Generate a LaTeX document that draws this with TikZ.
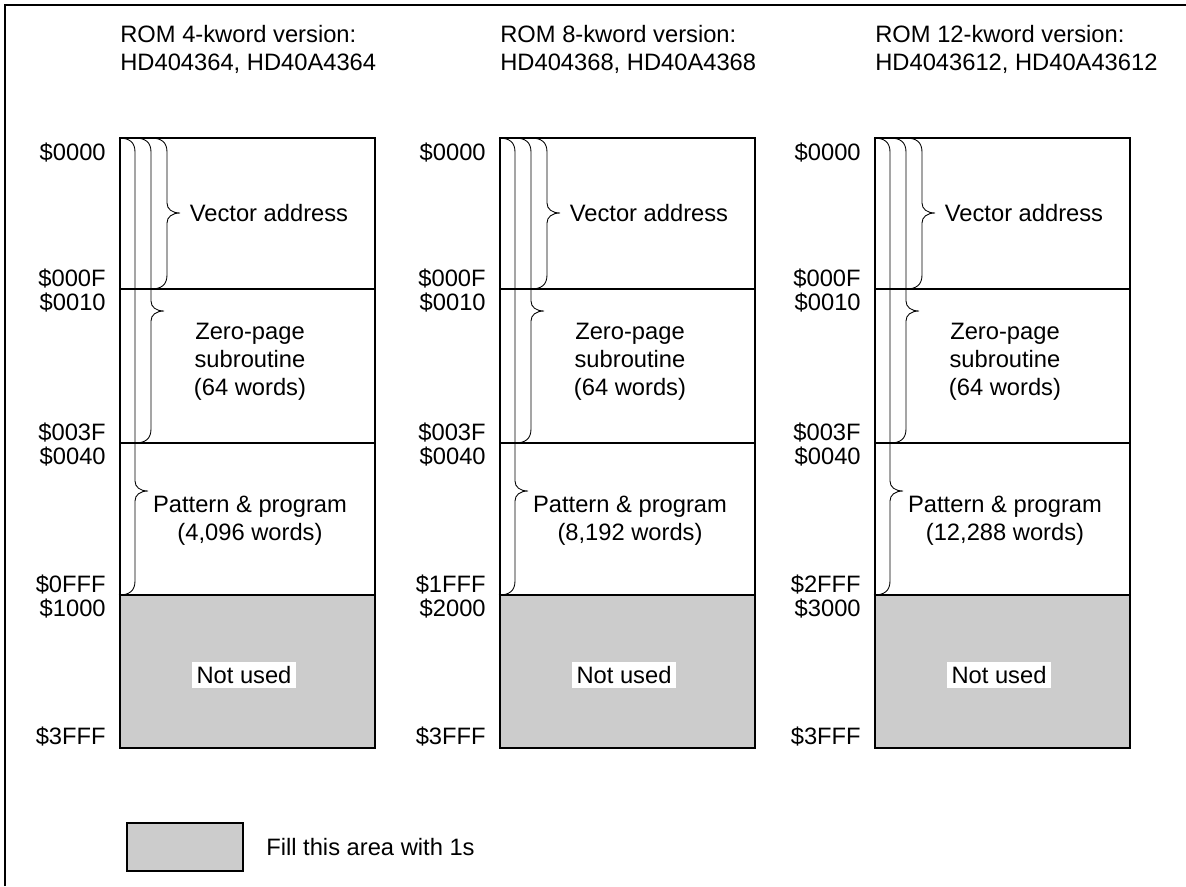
\documentclass[tikz,border=0pt]{standalone}
\usepackage{fontspec}
\setmainfont{Liberation Sans}
\definecolor{unused}{HTML}{CCCCCC}
% brace: x of the stem, top, bottom, tip
\newcommand\membrace[4]{\draw[brace] (#1-16,#2) .. controls (#1-6,#2) and (#1,#2+4) .. (#1,#2+14) -- (#1,#4-10) .. controls (#1,#4-4) and (#1+5,#4) .. (#1+13,#4) .. controls (#1+5,#4) and (#1,#4+4) .. (#1,#4+10) -- (#1,#3-14) .. controls (#1,#3-4) and (#1-6,#3) .. (#1-16,#3);}
\begin{document}
\begin{tikzpicture}[x=0.02cm,y=-0.02cm,every node/.style={font=\fontsize{13.5}{16}\selectfont},line/.style={line width=0.6pt},brace/.style={line width=0.5pt},txt/.style={align=center,inner sep=0pt},addr/.style={anchor=east,inner sep=0pt}]
\useasboundingbox (0,0) rectangle (1186,886);
\draw[line width=0.8pt] (5,886) -- (5,5) -- (1186,5);
\foreach \L/\kw/\hda/\hdb/\lst/\nxt/\wds [count=\i] in {120/4/HD404364/HD40A4364/0FFF/1000/{4,096},500/8/HD404368/HD40A4368/1FFF/2000/{8,192},875/12/HD4043612/HD40A43612/2FFF/3000/{12,288}}{
\node[align=left,anchor=west,inner sep=0pt] (hd\i) at (\L,49) {ROM \kw-kword version:\\\hda, \hdb};
\fill[unused] (\L,595) rectangle (\L+255,748);
\draw[line] (\L,138) rectangle (\L+255,748) (\L,289) -- (\L+255,289) (\L,443) -- (\L+255,443) (\L,595) -- (\L+255,595);
\membrace{\L+47}{138}{289}{213}
\membrace{\L+31}{138}{443}{311}
\membrace{\L+15}{138}{595}{491}
\node[txt] (va\i) at (\L+149,213) {Vector address};
\node[txt] (zp\i) at (\L+130,362) {Zero-page\\subroutine\\(64 words)};
\node[txt] (pp\i) at (\L+130,521) {Pattern \& program\\(\wds\ words)};
\node[fill=white,inner sep=2.5pt] (nu\i) at (\L+124,675) {Not used};
\foreach \ad/\y [count=\j] in {0000/153,000F/279,0010/303,003F/433,0040/457,\lst/585,\nxt/609,3FFF/737}
  \node[addr] (ad\i-\j) at (\L-14,\y) {\$\ad};
}
\draw[line,fill=unused] (127,823) rectangle (243,871);
\node[anchor=west,inner sep=0pt] (fill) at (266,847) {Fill this area with 1s};
\end{tikzpicture}
\end{document}
